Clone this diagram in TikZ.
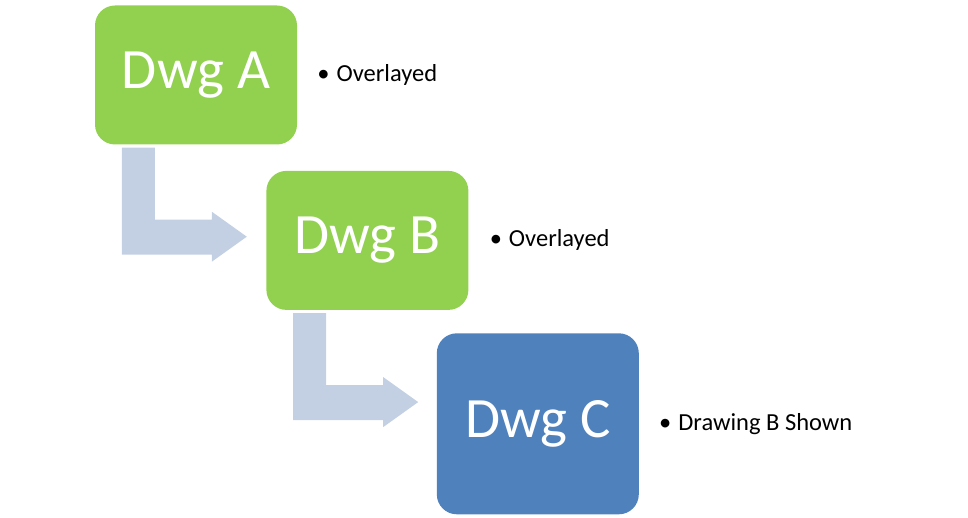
\documentclass[tikz,border=0pt]{standalone}
\usepackage{fontspec}
\setmainfont{Carlito}
\usetikzlibrary{positioning}

\definecolor{dwggreen}{HTML}{92D050}
\definecolor{dwgblue}{HTML}{4F81BD}
\definecolor{arrowgray}{HTML}{C3CFE3}

\tikzset{
  dwgbox/.style={rounded corners=20pt, minimum width=202pt, minimum height=139pt,
    text=white, font=\fontsize{57}{60}\selectfont, inner sep=0pt},
  note/.style={anchor=west, inner sep=0pt, font=\fontsize{24.5}{28}\selectfont},
  bentarrow/.style={fill=arrowgray}
}

\begin{document}
\begin{tikzpicture}[x=1pt, y=-1pt]
\useasboundingbox (0,0) rectangle (968,518);
\node[dwgbox, fill=dwggreen] (a) at (196,75) {Dwg A};
\node[dwgbox, fill=dwggreen, below right=26pt and -31pt of a] (b) {Dwg B};
\node[dwgbox, fill=dwgblue, minimum height=181pt, below right=23pt and -32pt of b] (c) {Dwg C};

\node[note, right=20pt of a] (anote) {\textbullet\hspace{7pt}Overlayed};
\node[note, right=21pt of b] (bnote) {\textbullet\hspace{7pt}Overlayed};
\node[note, right=20pt of c] (cnote) {\textbullet\hspace{7pt}Drawing B Shown};

% bent arrows between the boxes
\foreach \s in {a,b}
  \fill[bentarrow] ([xshift=27pt,yshift=-3pt]\s.south west) -- ++(33,0) -- ++(0,72)
    -- ++(57,0) -- ++(0,-8) -- ++(35,25) -- ++(-35,25) -- ++(0,-7) -- ++(-90,0) -- cycle;
\end{tikzpicture}
\end{document}
